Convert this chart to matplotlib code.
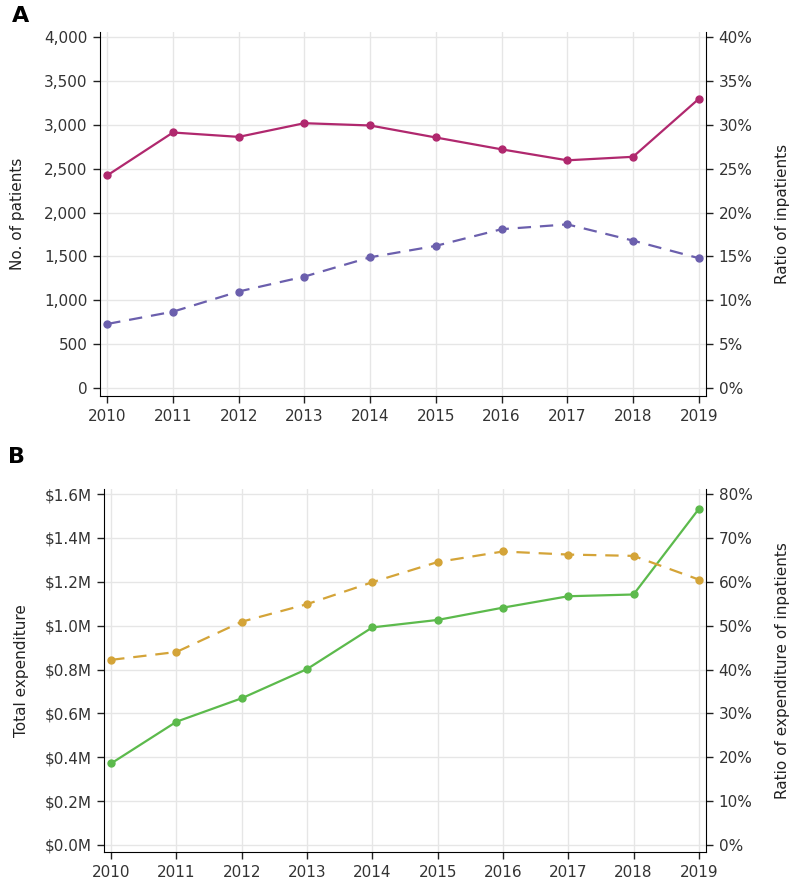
import matplotlib
matplotlib.use("Agg")
import matplotlib.pyplot as plt
from matplotlib.ticker import FuncFormatter, MultipleLocator

years = [2010, 2011, 2012, 2013, 2014, 2015, 2016, 2017, 2018, 2019]

# panel A
n_patients = [2423, 2912, 2862, 3018, 2992, 2855, 2720, 2595, 2635, 3295]
ratio_inpatients = [7.3, 8.7, 11.0, 12.7, 14.9, 16.2, 18.1, 18.65, 16.8, 14.8]

# panel B (expenditure in millions of dollars)
total_expenditure = [0.372, 0.562, 0.669, 0.802, 0.992, 1.026, 1.082, 1.134, 1.142, 1.532]
ratio_expenditure = [42.2, 44.0, 50.9, 54.9, 59.9, 64.5, 66.9, 66.2, 65.9, 60.5]

MAGENTA = "#b0286e"
PURPLE = "#6b5fad"
GREEN = "#5cba4c"
ORANGE = "#d4a438"
GRID = "#e6e6e6"

plt.rcParams["font.family"] = ["DejaVu Sans"]

fig = plt.figure(figsize=(8.0, 8.82), dpi=100)
ax_a = fig.add_axes([0.125, 0.551, 0.7575, 0.4127])
ax_b = fig.add_axes([0.13, 0.034, 0.7525, 0.4116])


def style(ax, ax2):
    for a in (ax, ax2):
        a.spines["top"].set_visible(False)
        a.tick_params(direction="out", length=5, width=1, labelsize=11,
                      colors="#222222", labelcolor="#333333", pad=4)
    ax.spines["right"].set_visible(False)
    ax2.spines["left"].set_visible(False)
    ax2.spines["bottom"].set_visible(False)
    ax.set_xticks(years)
    ax.set_xlim(2009.89, 2019.11)
    ax.grid(True, color=GRID, linewidth=1)
    ax.set_axisbelow(True)


# ---- panel A
ax_a2 = ax_a.twinx()
style(ax_a, ax_a2)
ax_a.plot(years, n_patients, color=MAGENTA, lw=1.6, marker="o", ms=5, zorder=3)
ax_a2.plot(years, ratio_inpatients, color=PURPLE, lw=1.6, ls=(0, (6, 4)),
           marker="o", ms=5, zorder=3)
ax_a.set_ylim(-91, 4057)
ax_a2.set_ylim(-0.91, 40.57)
ax_a.yaxis.set_major_locator(MultipleLocator(500))
ax_a2.yaxis.set_major_locator(MultipleLocator(5))
ax_a.yaxis.set_major_formatter(FuncFormatter(lambda v, p: f"{v:,.0f}"))
ax_a2.yaxis.set_major_formatter(FuncFormatter(lambda v, p: f"{v:.0f}%"))
ax_a.set_ylabel("No. of patients", fontsize=11, color="#222222", labelpad=14)
ax_a2.set_ylabel("Ratio of inpatients", fontsize=11, color="#222222", labelpad=16)
fig.text(0.015, 0.982, "A", fontsize=16, fontweight="bold", va="center")

# ---- panel B
ax_b2 = ax_b.twinx()
style(ax_b, ax_b2)
ax_b.plot(years, total_expenditure, color=GREEN, lw=1.6, marker="o", ms=5, zorder=3)
ax_b2.plot(years, ratio_expenditure, color=ORANGE, lw=1.6, ls=(0, (6, 4)),
           marker="o", ms=5, zorder=3)
ax_b.set_ylim(-0.032, 1.623)
ax_b2.set_ylim(-1.6, 81.15)
ax_b.yaxis.set_major_locator(MultipleLocator(0.2))
ax_b2.yaxis.set_major_locator(MultipleLocator(10))
ax_b.yaxis.set_major_formatter(FuncFormatter(lambda v, p: f"${v:.1f}M"))
ax_b2.yaxis.set_major_formatter(FuncFormatter(lambda v, p: f"{v:.0f}%"))
ax_b.set_ylabel("Total expenditure", fontsize=11, color="#222222", labelpad=11)
ax_b2.set_ylabel("Ratio of expenditure of inpatients", fontsize=11,
                 color="#222222", labelpad=16)
fig.text(0.010, 0.482, "B", fontsize=16, fontweight="bold", va="center")

fig.savefig("out.png", dpi=100)
